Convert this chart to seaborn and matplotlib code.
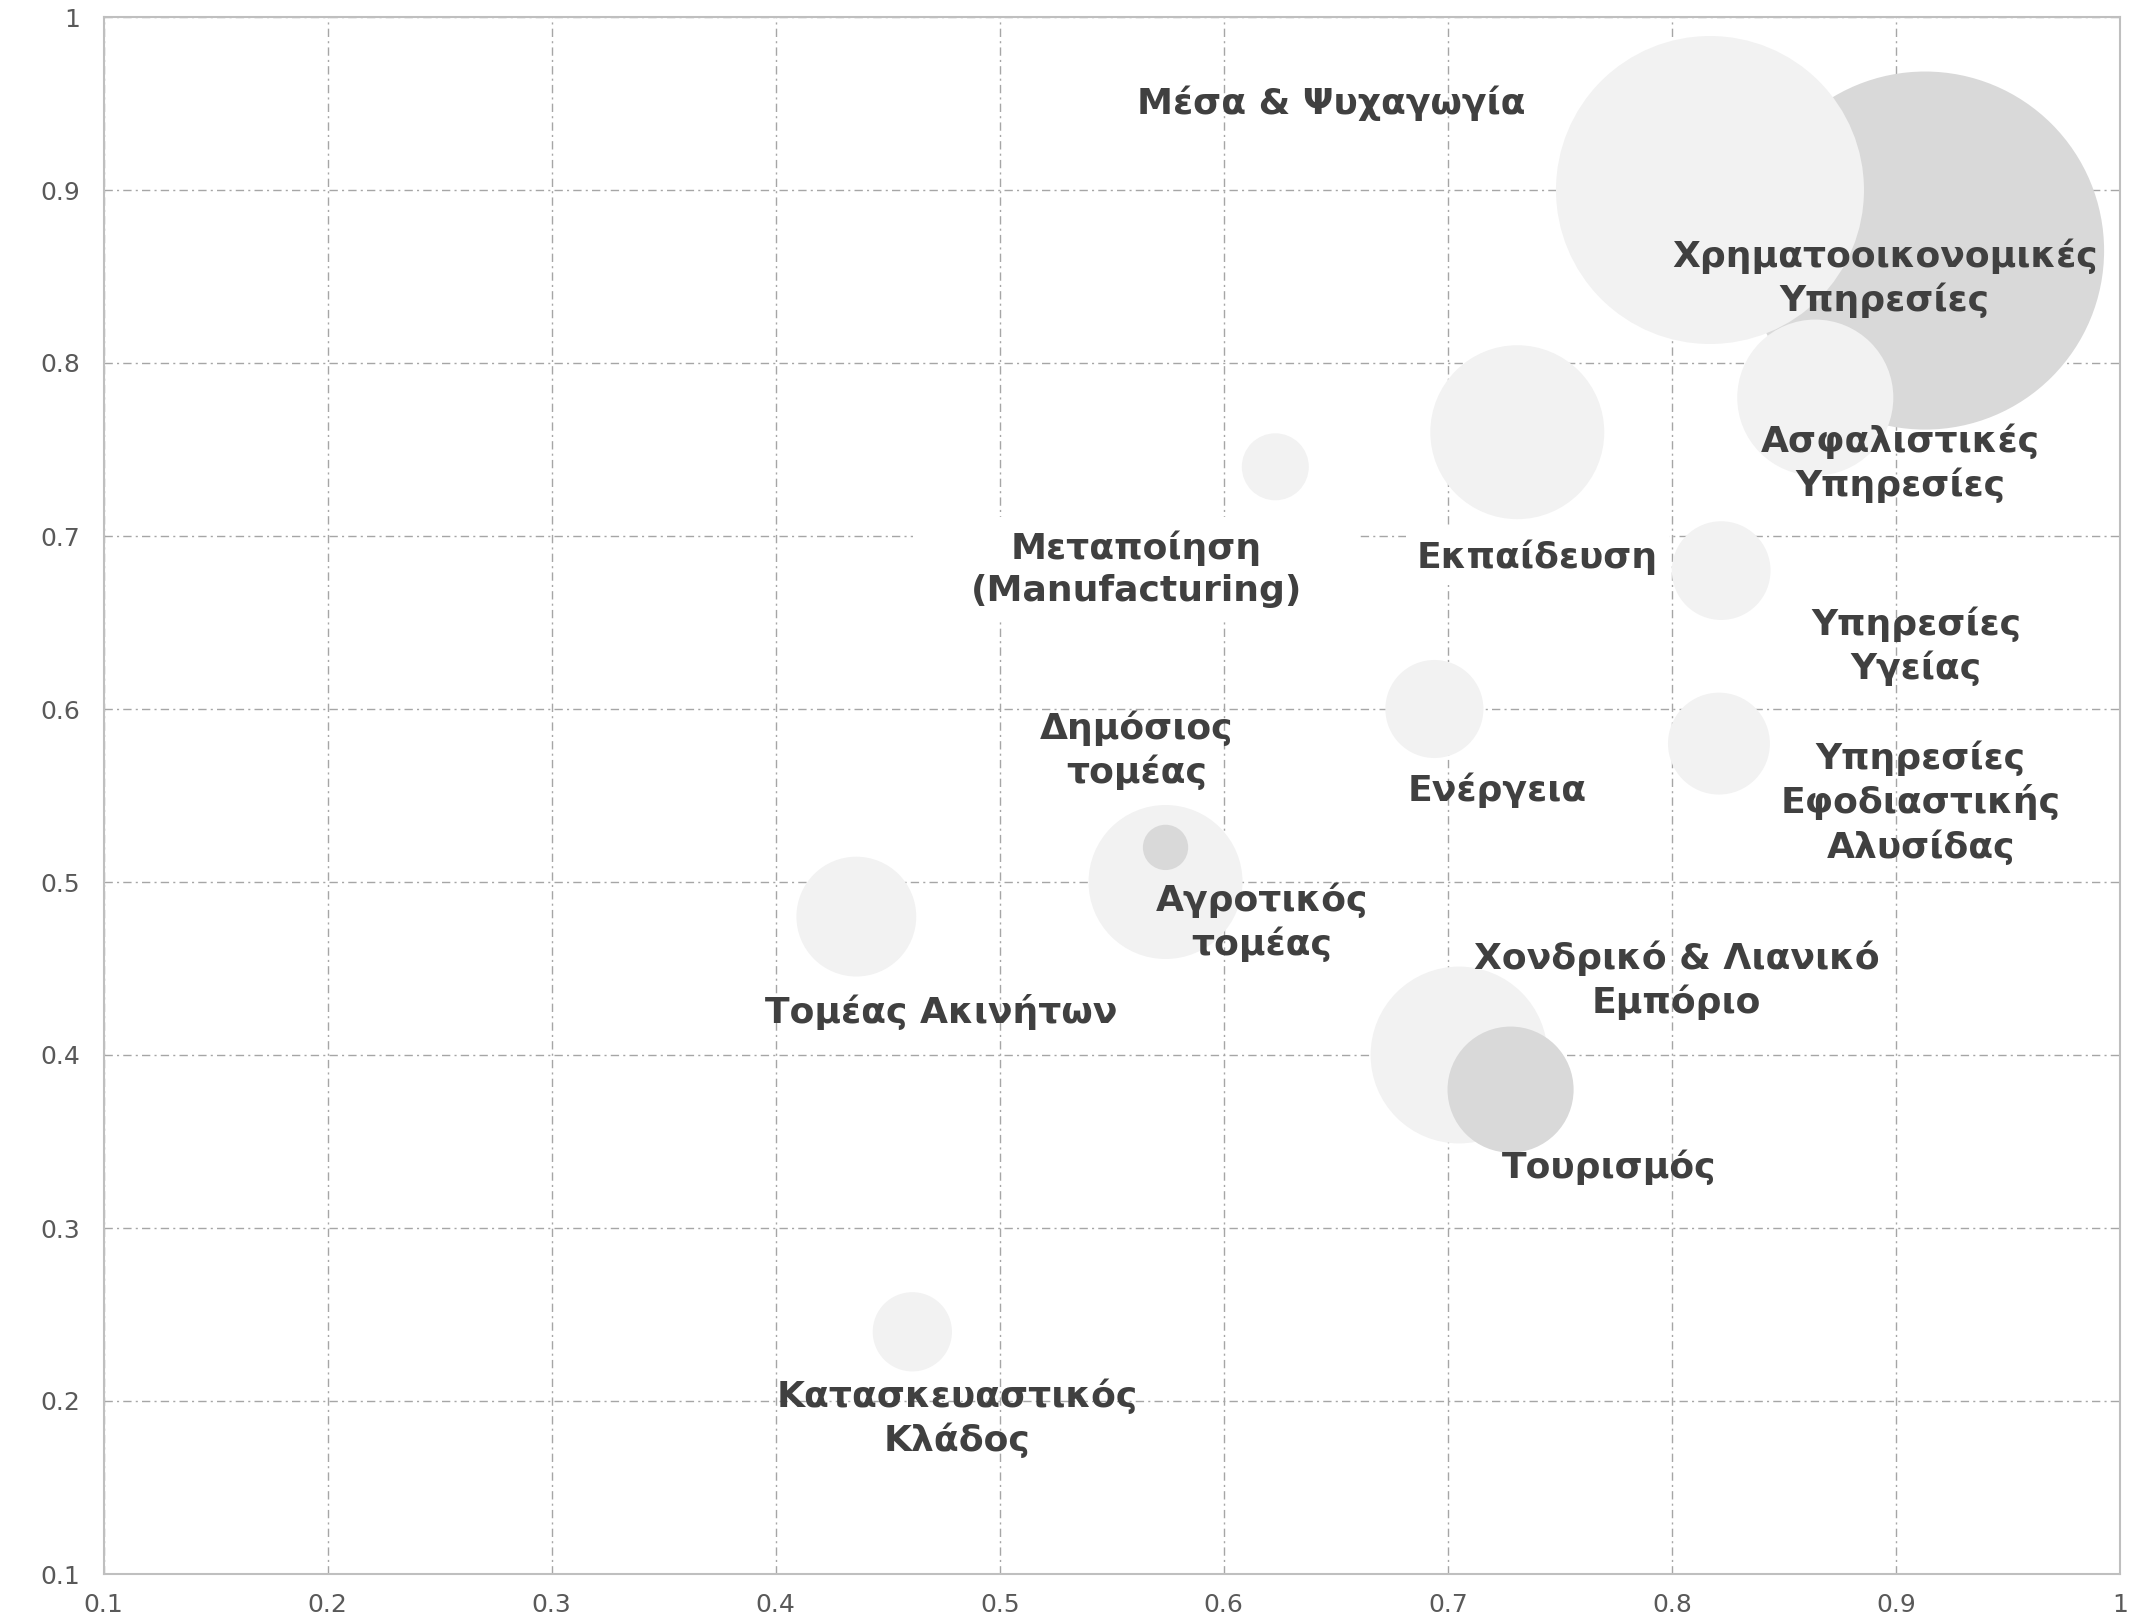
#Import libraries
import pandas as pd
import matplotlib.pyplot as plt
from matplotlib.ticker import MultipleLocator, FuncFormatter
import seaborn as sns

#Chart data: one bubble per sector
sectors = [
    "Χρηματοοικονομικές\nΥπηρεσίες",
    "Μέσα & Ψυχαγωγία",
    "Ασφαλιστικές\nΥπηρεσίες",
    "Εκπαίδευση",
    "Μεταποίηση\n(Manufacturing)",
    "Υπηρεσίες\nΥγείας",
    "Ενέργεια",
    "Υπηρεσίες\nΕφοδιαστικής\nΑλυσίδας",
    "Αγροτικός\nτομέας",
    "Δημόσιος\nτομέας",
    "Τομέας Ακινήτων",
    "Χονδρικό & Λιανικό\nΕμπόριο",
    "Τουρισμός",
    "Κατασκευαστικός\nΚλάδος",
]
x_values = [0.913, 0.817, 0.864, 0.731, 0.623, 0.822, 0.694, 0.821, 0.574, 0.574, 0.436, 0.705, 0.728, 0.461]
y_values = [0.865, 0.900, 0.780, 0.760, 0.740, 0.680, 0.600, 0.580, 0.500, 0.520, 0.480, 0.400, 0.380, 0.240]
bubble_values = [100, 74, 19, 23.6, 3.5, 7.6, 7.5, 8.1, 18.5, 1.6, 11.2, 24.4, 12.4, 4.9]
tone = ["dark", "light", "light", "light", "light", "light", "light",
        "light", "light", "dark", "light", "light", "dark", "light"]

#Where each label sits (data coordinates)
label_x = [0.895, 0.648, 0.902, 0.740, 0.561, 0.909, 0.722, 0.911, 0.617, 0.561, 0.474, 0.802, 0.772, 0.481]
label_y = [0.849, 0.950, 0.742, 0.688, 0.681, 0.636, 0.553, 0.546, 0.477, 0.576, 0.425, 0.443, 0.335, 0.190]

df = pd.DataFrame({
    "sector": sectors,
    "x": x_values,
    "y": y_values,
    "bubble": bubble_values,
    "tone": tone,
})

sns.set_style("white")
plt.rcParams["font.family"] = ["DejaVu Sans"]

W, H = 2135, 1618
fig = plt.figure(figsize=(W / 100, H / 100), dpi=100)
left, right, top, bottom = 103.5, 2120, 17, 1574
ax = fig.add_axes([left / W, 1 - bottom / H, (right - left) / W, (bottom - top) / H])

#Bubble area scale (points^2 per unit of bubble value)
area = 664.6
bmin, bmax = min(bubble_values), max(bubble_values)
sns.scatterplot(
    data=df, x="x", y="y",
    hue="tone", palette={"light": "#F2F2F2", "dark": "#D9D9D9"},
    size="bubble", sizes=(bmin * area, bmax * area), size_norm=(bmin, bmax),
    linewidth=0, alpha=1, legend=False, ax=ax, zorder=2,
)

ax.set_xlim(0.1, 1.0)
ax.set_ylim(0.1, 1.0)
ax.xaxis.set_major_locator(MultipleLocator(0.1))
ax.yaxis.set_major_locator(MultipleLocator(0.1))
fmt = FuncFormatter(lambda v, p: "%g" % round(v, 1))
ax.xaxis.set_major_formatter(fmt)
ax.yaxis.set_major_formatter(fmt)
ax.set_xlabel("")
ax.set_ylabel("")

ax.set_axisbelow(True)
ax.grid(True, color="#A6A6A6", linewidth=1.0, linestyle=(0, (6, 3, 1.5, 3)))
for s in ax.spines.values():
    s.set_visible(True)
    s.set_color("#BFBFBF")
    s.set_linewidth(1.5)

ax.tick_params(axis="both", length=0, labelsize=18, labelcolor="#595959")
ax.tick_params(axis="y", pad=17)
ax.tick_params(axis="x", pad=14)

#Sector labels
for i, name in enumerate(sectors):
    kw = {}
    if name.startswith("Μεταποίηση"):
        kw["bbox"] = dict(boxstyle="square,pad=1.6", facecolor="white",
                          edgecolor="none", mutation_aspect=0.22)
    elif name == "Εκπαίδευση":
        kw["bbox"] = dict(boxstyle="square,pad=0.3", facecolor="white", edgecolor="none")
    ax.text(label_x[i], label_y[i], name, ha="center", va="center",
            fontsize=26, fontweight="bold", color="#404040",
            linespacing=1.3, zorder=3, **kw)

plt.savefig("out.png", dpi=100)
print("File Saved")
